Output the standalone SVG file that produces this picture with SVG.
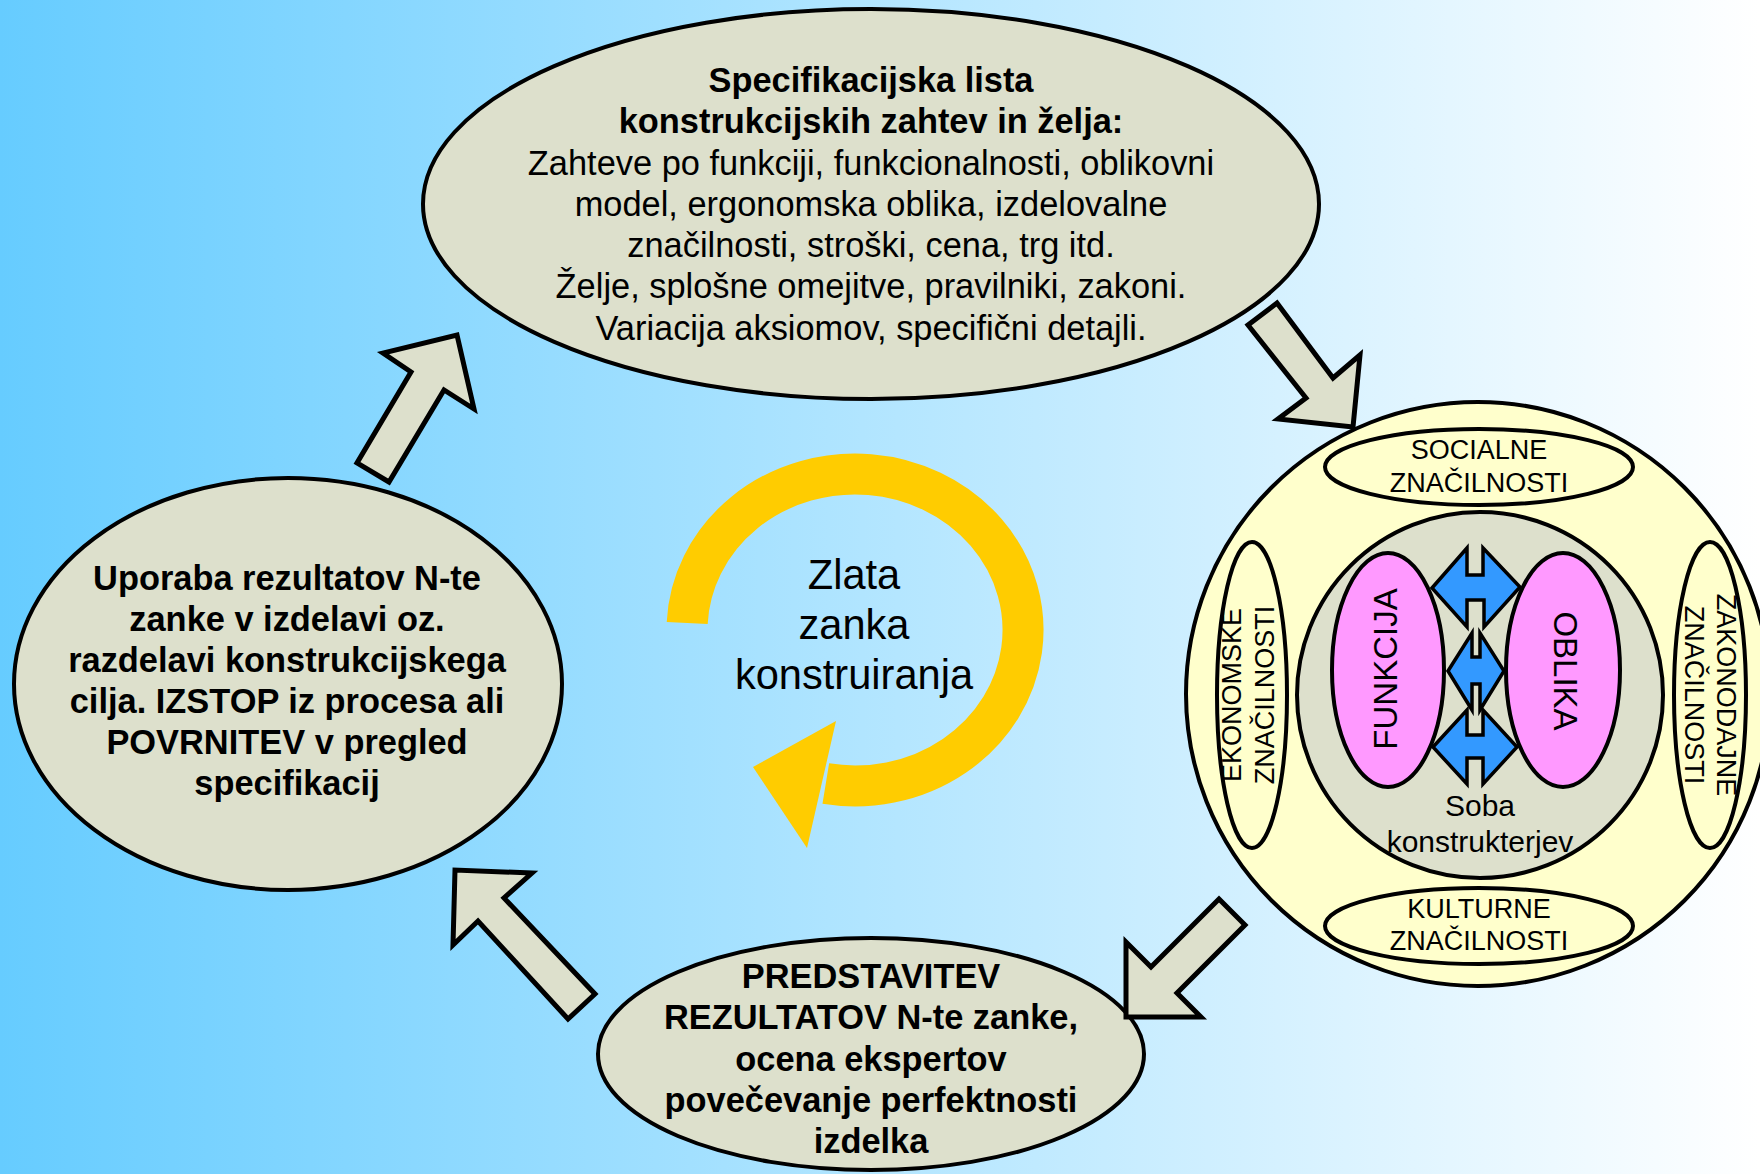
<svg xmlns="http://www.w3.org/2000/svg" width="1760" height="1174" viewBox="0 0 1760 1174">
<defs>
<linearGradient id="bg" x1="0" y1="0" x2="1" y2="0">
<stop offset="0" stop-color="#66CCFF"/>
<stop offset="1" stop-color="#FFFFFF"/>
</linearGradient>
</defs>
<style>
.node{fill:#DDE0CC;stroke:#000;stroke-width:4}
.yel{fill:#FFFFCC;stroke:#000;stroke-width:4}
.pink{fill:#FF99FF;stroke:#000;stroke-width:4}
.blue{fill:#3399FF;stroke:#000;stroke-width:3.5;stroke-linejoin:miter}
.garrow{fill:#DDE0CC;stroke:#000;stroke-width:5;stroke-linejoin:miter}
text{font-family:"Liberation Sans",Arial,sans-serif;fill:#000;text-anchor:middle}
.big{font-size:34.4px}
.b{font-weight:bold}
.small{font-size:27px}
.mid{font-size:33px}
.soba{font-size:30px}
.zl{font-size:41.6px}
</style>
<rect x="0" y="0" width="1760" height="1174" fill="url(#bg)"/>

<g id="golden-loop">
<path d="M 687.2 623 A 168 156 0 1 1 825.8 783.6" fill="none" stroke="#FFCC00" stroke-width="41"/>
<polygon points="836,721 753,767 807,848" fill="#FFCC00"/>
<text class="zl" x="854" y="589">Zlata</text>
<text class="zl" x="854" y="639">zanka</text>
<text class="zl" x="854" y="689">konstruiranja</text>
</g>

<g id="spec">
<ellipse class="node" cx="871" cy="204" rx="448" ry="195"/>
<text class="big b" x="871" y="92">Specifikacijska lista</text>
<text class="big b" x="871" y="133">konstrukcijskih zahtev in želja:</text>
<text class="big" x="871" y="175">Zahteve po funkciji, funkcionalnosti, oblikovni</text>
<text class="big" x="871" y="216">model, ergonomska oblika, izdelovalne</text>
<text class="big" x="871" y="257">značilnosti, stroški, cena, trg itd.</text>
<text class="big" x="871" y="298">Želje, splošne omejitve, pravilniki, zakoni.</text>
<text class="big" x="871" y="340">Variacija aksiomov, specifični detajli.</text>
</g>

<g id="uporaba">
<ellipse class="node" cx="288" cy="684" rx="274" ry="206"/>
<text class="big b" x="287" y="590">Uporaba rezultatov N-te</text>
<text class="big b" x="287" y="631">zanke v izdelavi oz.</text>
<text class="big b" x="287" y="672">razdelavi konstrukcijskega</text>
<text class="big b" x="287" y="713">cilja. IZSTOP iz procesa ali</text>
<text class="big b" x="287" y="754">POVRNITEV v pregled</text>
<text class="big b" x="287" y="795">specifikacij</text>
</g>

<g id="predstavitev">
<ellipse class="node" cx="871" cy="1054" rx="273" ry="116"/>
<text class="big b" x="871" y="988">PREDSTAVITEV</text>
<text class="big b" x="871" y="1029">REZULTATOV N-te zanke,</text>
<text class="big b" x="871" y="1071">ocena ekspertov</text>
<text class="big b" x="871" y="1112">povečevanje perfektnosti</text>
<text class="big b" x="871" y="1153">izdelka</text>
</g>

<g id="soba-konstrukterjev">
<circle class="yel" cx="1478" cy="694" r="292"/>
<g id="socialne">
<ellipse class="yel" cx="1479" cy="467" rx="154" ry="38"/>
<text class="small" x="1479" y="459">SOCIALNE</text>
<text class="small" x="1479" y="492">ZNAČILNOSTI</text>
</g>
<g id="kulturne">
<ellipse class="yel" cx="1479" cy="926" rx="154" ry="38"/>
<text class="small" x="1479" y="918">KULTURNE</text>
<text class="small" x="1479" y="950">ZNAČILNOSTI</text>
</g>
<g id="ekonomske">
<ellipse class="yel" cx="1252" cy="695" rx="35" ry="153"/>
<text class="small" transform="translate(1232,695) rotate(-90)" dy="0.35em">EKONOMSKE</text>
<text class="small" transform="translate(1265,695) rotate(-90)" dy="0.35em">ZNAČILNOSTI</text>
</g>
<g id="zakonodajne">
<ellipse class="yel" cx="1710" cy="695" rx="36" ry="153"/>
<text class="small" transform="translate(1726,695) rotate(90)" dy="0.35em">ZAKONODAJNE</text>
<text class="small" transform="translate(1694,695) rotate(90)" dy="0.35em">ZNAČILNOSTI</text>
</g>
<g id="soba">
<circle cx="1480" cy="695" r="183" fill="#DDE0CC" stroke="#000" stroke-width="4"/>
<polygon class="blue" points="1432,588 1467,548 1467,575 1483,575 1483,548 1520,587 1484,627 1484,600 1467,600 1467,627"/>
<polygon class="blue" points="1448,671 1472,633 1472,657 1480,657 1480,633 1504,671 1480,710 1480,684 1472,684 1472,710"/>
<polygon class="blue" points="1433,747 1467,710 1467,735 1483,735 1483,710 1517,747 1483,784 1483,758 1467,758 1467,784"/>
<text class="soba" x="1480" y="816">Soba</text>
<text class="soba" x="1480" y="852">konstrukterjev</text>
</g>
<g id="funkcija">
<ellipse class="pink" cx="1388" cy="670" rx="56" ry="117"/>
<text class="mid" transform="translate(1385,669) rotate(-90)" dy="0.35em">FUNKCIJA</text>
</g>
<g id="oblika">
<ellipse class="pink" cx="1563" cy="670" rx="57" ry="117"/>
<text class="mid" transform="translate(1566,671) rotate(90)" dy="0.35em">OBLIKA</text>
</g>
</g>

<g id="connectors">
<polygon class="garrow" points="1248,325 1277,303 1333,378 1360,355 1353,427 1278,419 1306,398"/>
<polygon class="garrow" points="1219,899 1245,925 1177,993 1201,1017 1126,1017 1126,942 1151,967"/>
<polygon class="garrow" points="595,994 568,1019 478,921 453,945 455,870 532,873 504,898"/>
<polygon class="garrow" points="389,482 357,463 411,372 383,353 457,335 474,409 444,390"/>
</g>
</svg>
